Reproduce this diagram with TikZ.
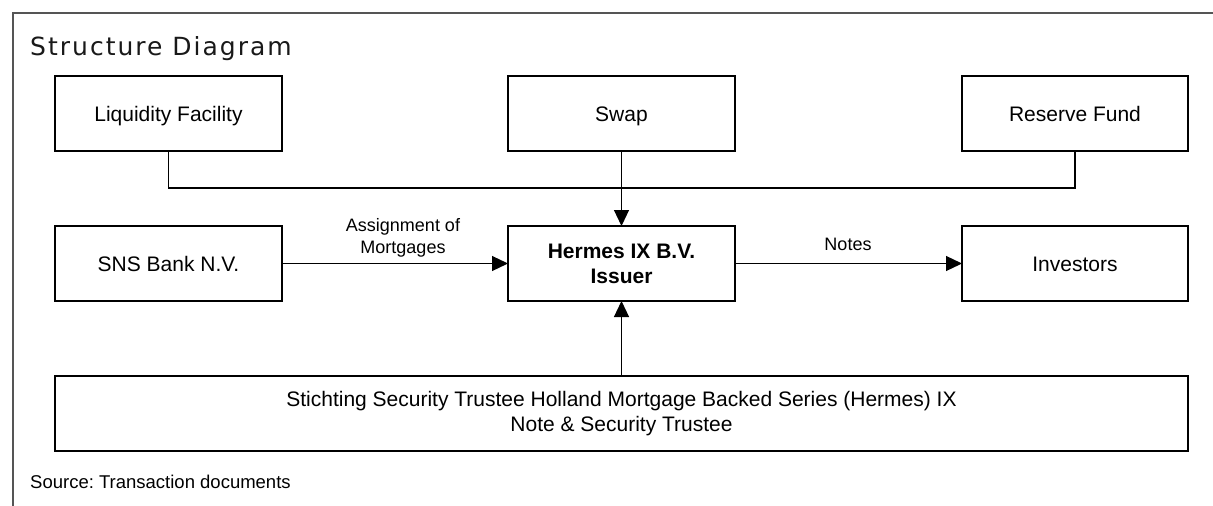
\documentclass[tikz,border=0pt]{standalone}
\usepackage{fontspec}
\setmainfont{Liberation Sans}
\newfontfamily\titlefont[LetterSpace=8]{DejaVu Sans}
\usetikzlibrary{arrows.meta}
\definecolor{framegray}{RGB}{85,85,85}
\frenchspacing
\begin{document}
\begin{tikzpicture}[x=1pt,y=-1pt,
  box/.style={draw,line width=1.2pt,minimum width=227pt,minimum height=75pt,inner sep=0pt,outer sep=0pt,align=center,font=\fontsize{21}{25}\selectfont},
  onebox/.style={box,text height=15.5pt,text depth=0pt},
  lbl/.style={align=center,font=\fontsize{18}{22}\selectfont,inner sep=0pt},
  conn/.style={line width=1.2pt},
  arr/.style={conn,-{Triangle[length=16pt,width=15pt]}}]
\useasboundingbox (0,0) rectangle (1213,506);
\draw[line width=2pt,framegray] (12.7,506) -- (12.7,13) -- (1213,13);
\node[anchor=base west,inner sep=0pt,font=\titlefont\fontsize{25}{30}\selectfont,text={rgb,255:red,25;green,25;blue,25}] (title) at (30,55) {Structure Diagram};
\node[onebox] (liq) at (168.5,113.5) {Liquidity Facility};
\node[onebox] (swap) at (621.5,113.5) {Swap};
\node[onebox,minimum width=226pt] (res) at (1075,113.5) {Reserve Fund};
\node[onebox] (sns) at (168.5,263.5) {SNS Bank N.V.};
\node[box] (hermes) at (621.5,263.5) {\textbf{Hermes IX B.V.}\\\textbf{Issuer}};
\node[onebox,minimum width=226pt] (inv) at (1075,263.5) {Investors};
\node[box,minimum width=1133pt] (trustee) at (621.5,413.5) {Stichting Security Trustee Holland Mortgage Backed Series (Hermes) IX\\Note \& Security Trustee};
\coordinate (bus) at (621.5,188);
\draw[conn] (liq.south) |- (bus) -| (res.south);
\draw[arr] (swap.south) -- (hermes.north);
\draw[arr] (sns.east) -- (hermes.west);
\draw[arr] (hermes.east) -- (inv.west);
\draw[arr] (trustee.north) -- (hermes.south);
\node[lbl,anchor=south] (lblA) at (403,257) {Assignment of\\Mortgages};
\node[lbl,anchor=base] (lblN) at (848,250) {Notes};
\node[anchor=base west,inner sep=0pt,font=\fontsize{18.5}{22}\selectfont] (src) at (30,488) {Source: Transaction documents};
\end{tikzpicture}
\end{document}
